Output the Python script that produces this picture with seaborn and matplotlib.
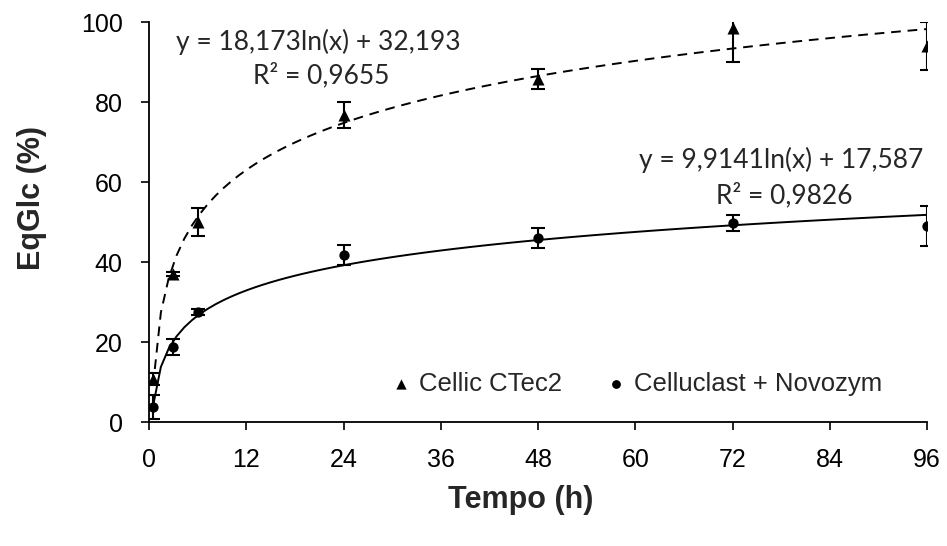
import matplotlib
matplotlib.use("Agg")
import matplotlib.pyplot as plt
import seaborn as sns
import numpy as np
import pandas as pd

# ---- data ----
time_h = [0.5, 3, 6, 24, 48, 72, 96]
ctec2 = [10.75, 37.0, 50.0, 76.75, 85.75, 98.5, 94.0]
ctec2_err = [1.5, 0.6, 3.6, 3.3, 2.4, 8.5, 6.0]
novo = [3.75, 18.75, 27.5, 41.75, 46.0, 49.75, 49.0]
novo_err = [3.0, 2.0, 0.7, 2.4, 2.6, 1.9, 4.9]

series_names = ["Cellic CTec2", "Celluclast + Novozym"]
eq_texts = ["y = 18,173ln(x) + 32,193", "y = 9,9141ln(x) + 17,587"]
r2_texts = ["R² = 0,9655", "R² = 0,9826"]
x_ticks = [0, 12, 24, 36, 48, 60, 72, 84, 96]
y_ticks = [0, 20, 40, 60, 80, 100]

df_c = pd.DataFrame({"t": time_h, "y": ctec2, "err": ctec2_err})
df_n = pd.DataFrame({"t": time_h, "y": novo, "err": novo_err})

sns.set_theme(style="white")
plt.rcParams["font.family"] = ["Liberation Sans", "DejaVu Sans"]

fig = plt.figure(figsize=(9.47, 5.46), dpi=100)
W, H = 947, 546
x0, x1, y0, y1 = 149, 927, 422, 22
ax = fig.add_axes([x0 / W, 1 - y0 / H, (x1 - x0) / W, (y0 - y1) / H])

# trendlines (log fits) through seaborn
sns.regplot(data=df_c, x="t", y="y", logx=True, ci=None, scatter=False, ax=ax,
            color="black", line_kws=dict(lw=1.4, ls=(0, (5, 3.5))), truncate=True)
sns.regplot(data=df_n, x="t", y="y", logx=True, ci=None, scatter=False, ax=ax,
            color="black", line_kws=dict(lw=1.4, ls="-"), truncate=True)

# error bars
for d in (df_c, df_n):
    ax.errorbar(d["t"], d["y"], yerr=d["err"], fmt="none", ecolor="black",
                elinewidth=1.5, capsize=5, capthick=1.5, zorder=3)

# markers
sns.scatterplot(data=df_c, x="t", y="y", marker="^", s=75, color="black",
                edgecolor="black", linewidth=0, ax=ax, zorder=4, label=series_names[0])
sns.scatterplot(data=df_n, x="t", y="y", marker="o", s=55, color="black",
                edgecolor="black", linewidth=0, ax=ax, zorder=4, label=series_names[1])

ax.set_xlim(0, 96)
ax.set_ylim(0, 100)
ax.set_xticks(x_ticks)
ax.set_yticks(y_ticks)
ax.tick_params(axis="both", direction="out", length=6, width=1.2, colors="black",
               labelsize=18, left=True, bottom=True)
ax.tick_params(axis="x", pad=13)
ax.tick_params(axis="y", pad=13)
for s in ["top", "right"]:
    ax.spines[s].set_visible(False)
for s in ["left", "bottom"]:
    ax.spines[s].set_color("black")
    ax.spines[s].set_linewidth(1.3)
ax.grid(False)

ax.set_xlabel("Tempo (h)", fontsize=22, fontweight="bold", va="center")
ax.xaxis.set_label_coords((521 - x0) / (x1 - x0), -(500 - y0) / (y0 - y1))
ax.set_ylabel("EqGlc (%)", fontsize=22, fontweight="bold", va="center")
ax.yaxis.set_label_coords((32 - x0) / (x1 - x0), (y0 - 198) / (y0 - y1))

# equation annotations
eq_font = ["Lato", "DejaVu Sans"]
ax.text(20.85, 95.0, eq_texts[0], ha="center", va="center", fontsize=19, family=eq_font)
ax.text(21.2, 86.75, r2_texts[0], ha="center", va="center", fontsize=19, family=eq_font)
ax.text(78.0, 65.5, eq_texts[1], ha="center", va="center", fontsize=19, family=eq_font)
ax.text(78.4, 56.75, r2_texts[1], ha="center", va="center", fontsize=19, family=eq_font)

leg = ax.legend(loc="center right", bbox_to_anchor=((882 - x0) / (x1 - x0), (y0 - 384) / (y0 - y1)),
                ncol=2, frameon=False, fontsize=18.5, handlelength=0.6, handletextpad=0.4,
                columnspacing=1.8, borderaxespad=0, borderpad=0, markerscale=0.85)

fig.savefig("out.png", dpi=100, facecolor="white")
